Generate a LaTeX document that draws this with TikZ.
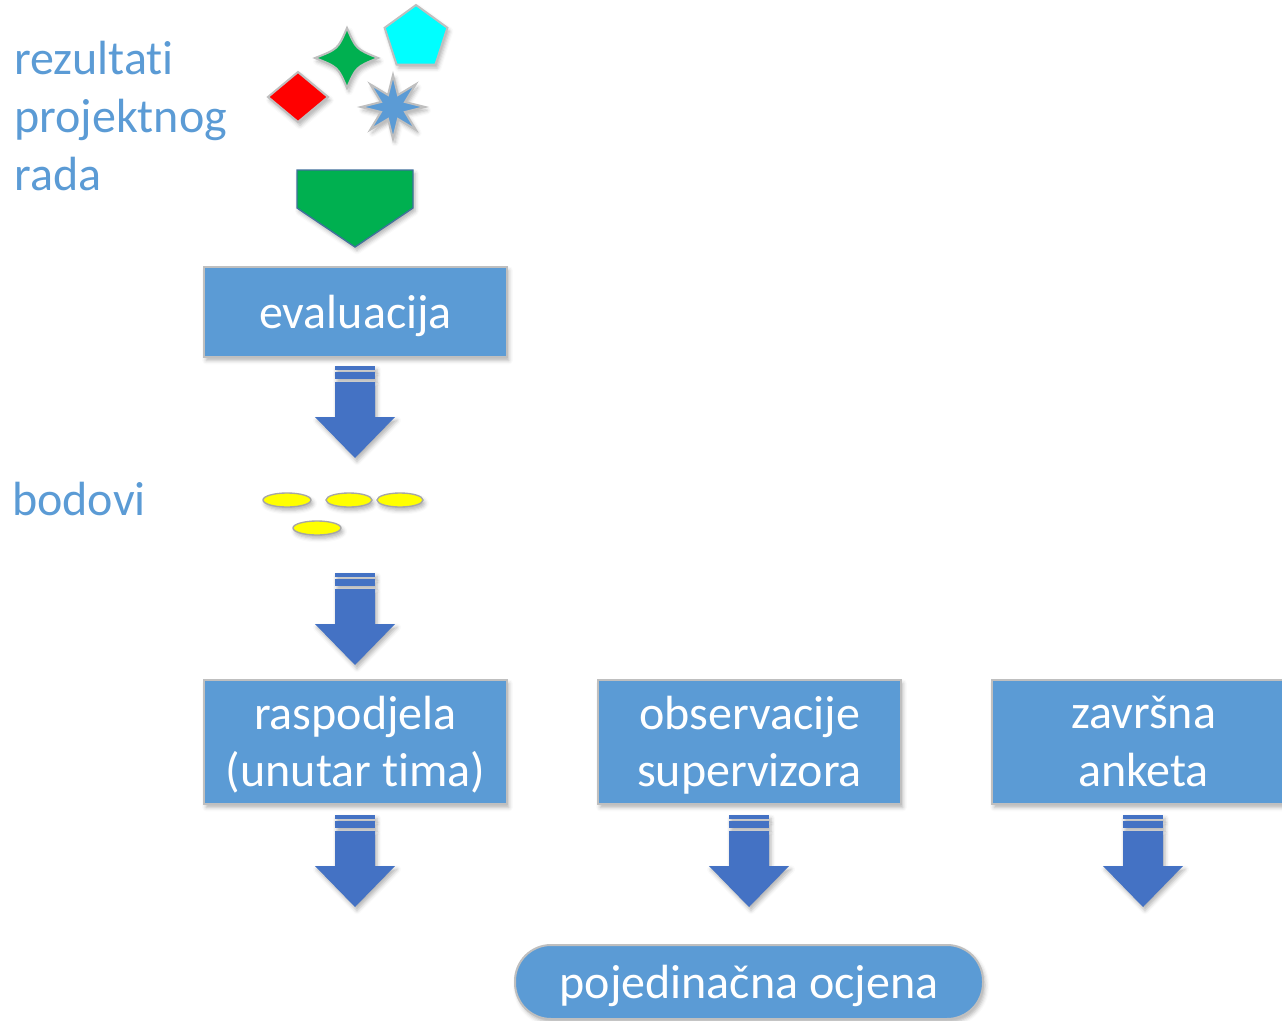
\documentclass[tikz,border=0pt]{standalone}
\usepackage{fontspec}
\setmainfont{Carlito}[Ligatures=CommonOff]
\usetikzlibrary{shadows.blur}
\definecolor{boxblue}{HTML}{5B9BD5}
\definecolor{arrowblue}{HTML}{4472C4}
\definecolor{edgegray}{HTML}{BFBFBF}
\definecolor{shapegreen}{HTML}{00B050}
\definecolor{pentcyan}{HTML}{00FFFF}
\definecolor{dotyellow}{HTML}{FFFF00}
\definecolor{plateedge}{HTML}{41719C}

\tikzset{
  softshadow/.style={blur shadow={shadow xshift=1.5pt,shadow yshift=-2.5pt,
      shadow blur radius=3pt,shadow opacity=30}},
  bigfont/.style={font=\fontsize{36}{43}\selectfont},
  stepbox/.style={draw=edgegray,line width=1.5pt,fill=boxblue,text=white,
      minimum width=227pt,align=center,inner sep=0pt,text depth=1pt,
      bigfont,softshadow},
  sidelabel/.style={text=boxblue,bigfont,anchor=base west,inner sep=0pt},
  shapeedge/.style={draw=edgegray,line width=1.5pt,softshadow},
  dot/.style={fill=dotyellow,draw=gray!70,line width=1pt,softshadow},
  stripedarrow/.pic={
    \fill[arrowblue,softshadow] (-20,0) rectangle (20,4);
    \fill[arrowblue,softshadow] (-20,6) rectangle (20,13);
    \fill[arrowblue,softshadow] (-20,16) -- (20,16) -- (20,51) -- (40,51)
        -- (0,92) -- (-40,51) -- (-20,51) -- cycle;
  }
}

\begin{document}
\begin{tikzpicture}[x=0.75pt,y=-0.75pt]
\useasboundingbox (0,0) rectangle (1282,1021);

% labels on the left
\node[sidelabel] (lab1) at (14,74) {rezultati};
\node[sidelabel] (lab2) at (14,132) {projektnog};
\node[sidelabel] (lab3) at (14,190) {rada};
\node[sidelabel] (lab4) at (12,515) {bodovi};

% project results: assorted shapes
\draw[shapeedge,fill=red] (268,97) -- (298,72) -- (328,97) -- (298,122) -- cycle;
\draw[shapeedge,fill=shapegreen] (347,28) .. controls (356,49) .. (378,58)
   .. controls (356,67) .. (347,88) .. controls (338,67) .. (315,58)
   .. controls (338,49) .. (347,28) -- cycle;
\begin{scope}[shift={(416,38)}]
  \draw[shapeedge,fill=pentcyan] (270:33) -- (342:33) -- (54:33) -- (126:33)
     -- (198:33) -- cycle;
\end{scope}
\begin{scope}[shift={(393,107)}]
  \draw[shapeedge,fill=boxblue] (90:32) \foreach \i in {1,...,15} {
     -- ({90+\i*22.5}:{ifthenelse(mod(\i,2)==0,32,13)}) } -- cycle;
\end{scope}

% green pentagon pointing down
\draw[fill=shapegreen,draw=plateedge,line width=1pt,softshadow]
   (297,170) -- (413,170) -- (413,208) -- (355,247) -- (297,208) -- cycle;

% evaluation box
\node[stepbox,minimum height=67.5pt] (eval) at (355.5,312) {evaluacija};
\pic (arr1) at (355,366) {stripedarrow};

% points
\draw[dot] (287,500) ellipse [x radius=24,y radius=7];
\draw[dot] (349,500) ellipse [x radius=23,y radius=7];
\draw[dot] (400,500) ellipse [x radius=23,y radius=7];
\draw[dot] (317,528) ellipse [x radius=24,y radius=7];

\pic (arr2) at (355,573) {stripedarrow};

% three sources
\node[stepbox,minimum height=93pt] (dist) at (355.5,742) {raspodjela\\(unutar tima)};
\node[stepbox,minimum height=93pt] (obs) at (749.5,742) {observacije\\supervizora};
\node[stepbox,minimum height=93pt] (surv) at (1143.5,742) {završna\\anketa};

\pic (arr3) at (355,815) {stripedarrow};
\pic (arr4) at (749,815) {stripedarrow};
\pic (arr5) at (1143,815) {stripedarrow};

% final grade
\node[stepbox,minimum width=351pt,minimum height=55.5pt,rounded corners=27pt]
   (grade) at (749,982) {pojedinačna ocjena};
\end{tikzpicture}
\end{document}
